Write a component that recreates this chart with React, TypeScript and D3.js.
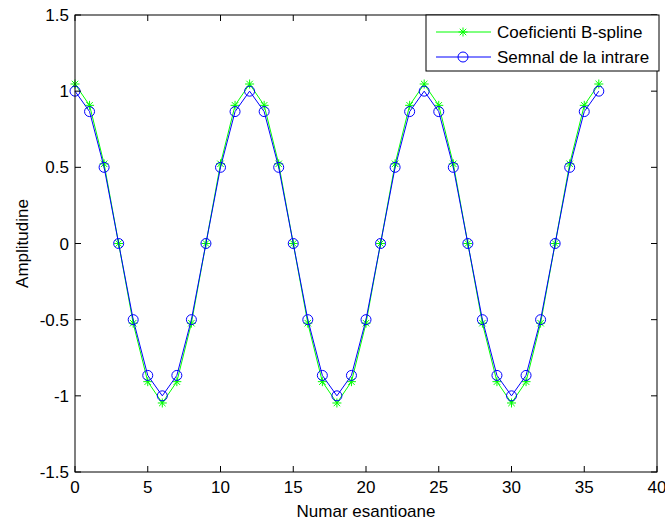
import React from "react";
import * as d3 from "d3";

const samples = [0,1,2,3,4,5,6,7,8,9,10,11,12,13,14,15,16,17,18,19,20,21,22,23,24,25,26,27,28,29,30,31,32,33,34,35,36];
const inputSignal = [1,0.866,0.5,0,-0.5,-0.866,-1,-0.866,-0.5,0,0.5,0.866,1,0.866,0.5,0,-0.5,-0.866,-1,-0.866,-0.5,0,0.5,0.866,1,0.866,0.5,0,-0.5,-0.866,-1,-0.866,-0.5,0,0.5,0.866,1];
const bsplineCoef = [1.047,0.907,0.523,0,-0.523,-0.907,-1.047,-0.907,-0.523,0,0.523,0.907,1.047,0.907,0.523,0,-0.523,-0.907,-1.047,-0.907,-0.523,0,0.523,0.907,1.047,0.907,0.523,0,-0.523,-0.907,-1.047,-0.907,-0.523,0,0.523,0.907,1.047];
const xTicks = [0,5,10,15,20,25,30,35,40];
const yTicks = [-1.5,-1,-0.5,0,0.5,1,1.5];
const legendLabels = ["Coeficienti B-spline", "Semnal de la intrare"];

const W = 665, H = 521;
const L = 75, R = 657, T = 15, B = 472;
const font = "'Liberation Sans', Arial, sans-serif";
const fs = 17;

function Star({ x, y, color }: { x: number; y: number; color: string }) {
  const r = 4.5;
  const d = r * 0.72;
  return (
    <g stroke={color} strokeWidth={1}>
      <line x1={x - r} y1={y} x2={x + r} y2={y} />
      <line x1={x} y1={y - r} x2={x} y2={y + r} />
      <line x1={x - d} y1={y - d} x2={x + d} y2={y + d} />
      <line x1={x - d} y1={y + d} x2={x + d} y2={y - d} />
    </g>
  );
}

export default function App() {
  const x = d3.scaleLinear().domain([0, 40]).range([L, R]);
  const y = d3.scaleLinear().domain([-1.5, 1.5]).range([B, T]);
  const greenPath = d3.line<number>().x((_, i) => x(samples[i])).y((d) => y(d))(bsplineCoef) || "";
  const bluePath = d3.line<number>().x((_, i) => x(samples[i])).y((d) => y(d))(inputSignal) || "";
  const green = "#00ff00";
  const blue = "#0000ff";
  const tl = 6;
  const fmt = (v: number) => String(v);
  const lgX = 426, lgY = 15, lgW = 233, lgH = 56;
  return (
    <svg width={W} height={H} style={{ position: "absolute", left: 0, top: 0, background: "#fff" }}>
      <rect x={0} y={0} width={W} height={H} fill="#fff" />
      <path d={greenPath} fill="none" stroke={green} strokeWidth={1} />
      {bsplineCoef.map((v, i) => (
        <Star key={"g" + i} x={x(samples[i])} y={y(v)} color={green} />
      ))}
      <path d={bluePath} fill="none" stroke={blue} strokeWidth={1} />
      {inputSignal.map((v, i) => (
        <circle key={"b" + i} cx={x(samples[i])} cy={y(v)} r={5} fill="none" stroke={blue} strokeWidth={1} />
      ))}
      <rect x={L} y={T} width={R - L} height={B - T} fill="none" stroke="#000" strokeWidth={1} />
      {xTicks.map((t) => (
        <g key={"x" + t}>
          <line x1={x(t)} x2={x(t)} y1={B} y2={B - tl} stroke="#000" />
          <line x1={x(t)} x2={x(t)} y1={T} y2={T + tl} stroke="#000" />
          <text x={x(t)} y={B + 21} textAnchor="middle" fontFamily={font} fontSize={fs} fill="#000">{fmt(t)}</text>
        </g>
      ))}
      {yTicks.map((t) => (
        <g key={"y" + t}>
          <line x1={L} x2={L + tl} y1={y(t)} y2={y(t)} stroke="#000" />
          <line x1={R} x2={R - tl} y1={y(t)} y2={y(t)} stroke="#000" />
          <text x={L - 6} y={y(t) + 6} textAnchor="end" fontFamily={font} fontSize={fs} fill="#000">{fmt(t)}</text>
        </g>
      ))}
      <text x={(L + R) / 2} y={517} textAnchor="middle" fontFamily={font} fontSize={fs} fill="#000">Numar esantioane</text>
      <text transform={`translate(28,${(T + B) / 2}) rotate(-90)`} textAnchor="middle" fontFamily={font} fontSize={fs} fill="#000">Amplitudine</text>
      <g>
        <rect x={lgX} y={lgY} width={lgW} height={lgH} fill="#fff" stroke="#000" strokeWidth={1} />
        <line x1={436} x2={491} y1={32} y2={32} stroke={green} />
        <Star x={463} y={32} color={green} />
        <text x={497} y={38} fontFamily={font} fontSize={fs} fill="#000">{legendLabels[0]}</text>
        <line x1={436} x2={491} y1={57} y2={57} stroke={blue} />
        <circle cx={463} cy={57} r={5} fill="none" stroke={blue} />
        <text x={497} y={63} fontFamily={font} fontSize={fs} fill="#000">{legendLabels[1]}</text>
      </g>
    </svg>
  );
}
